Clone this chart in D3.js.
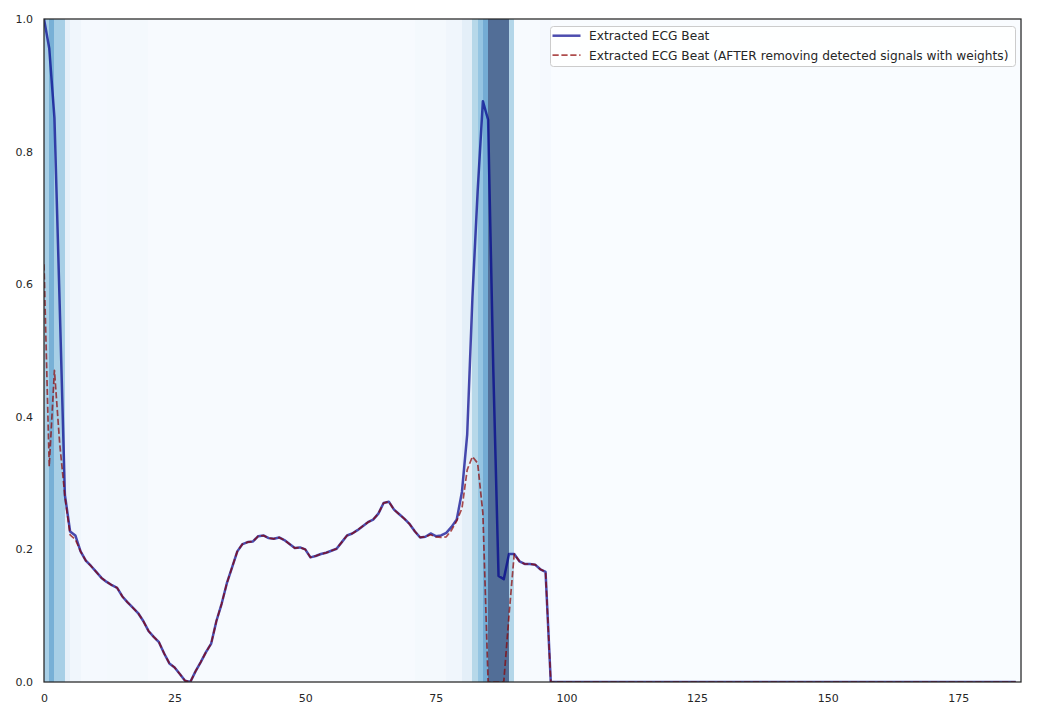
<!DOCTYPE html>
<html>
<head>
<meta charset="utf-8">
<script src="https://cdn.jsdelivr.net/npm/d3@7"></script>
<style>
  html, body { margin: 0; padding: 0; background: #ffffff; }
  svg { display: block; font-family: "DejaVu Sans", sans-serif; }
</style>
</head>
<body>
<svg id="chart" width="1056" height="720"></svg>
<script>
// ---------------- DATA ----------------
const seriesNames = [
  "Extracted ECG Beat",
  "Extracted ECG Beat (AFTER removing detected signals with weights)"
];

const ecgBeat = [
  1.000, 0.956, 0.851, 0.570, 0.282, 0.227, 0.221, 0.197, 0.183, 0.175,
  0.166, 0.157, 0.151, 0.146, 0.142, 0.129, 0.120, 0.112, 0.104, 0.092,
  0.077, 0.068, 0.060, 0.043, 0.028, 0.022, 0.012, 0.002, 0.000, 0.016,
  0.030, 0.045, 0.058, 0.092, 0.118, 0.149, 0.173, 0.197, 0.208, 0.211,
  0.212, 0.220, 0.221, 0.217, 0.216, 0.218, 0.214, 0.208, 0.202, 0.203,
  0.200, 0.188, 0.190, 0.193, 0.195, 0.198, 0.201, 0.211, 0.221, 0.224,
  0.229, 0.235, 0.241, 0.245, 0.254, 0.270, 0.272, 0.260, 0.253, 0.246,
  0.238, 0.227, 0.218, 0.219, 0.224, 0.220, 0.221, 0.225, 0.234, 0.245,
  0.287, 0.373, 0.580, 0.740, 0.876, 0.848, 0.470, 0.160, 0.155, 0.193,
  0.193, 0.182, 0.178, 0.178, 0.177, 0.170, 0.166, 0, 0, 0,
  0, 0, 0, 0, 0, 0, 0, 0, 0, 0,
  0, 0, 0, 0, 0, 0, 0, 0, 0, 0,
  0, 0, 0, 0, 0, 0, 0, 0, 0, 0,
  0, 0, 0, 0, 0, 0, 0, 0, 0, 0,
  0, 0, 0, 0, 0, 0, 0, 0, 0, 0,
  0, 0, 0, 0, 0, 0, 0, 0, 0, 0,
  0, 0, 0, 0, 0, 0, 0, 0, 0, 0,
  0, 0, 0, 0, 0, 0, 0, 0, 0, 0,
  0, 0, 0, 0, 0, 0, 0
];

const ecgBeatAfter = [
  0.630, 0.325, 0.470, 0.360, 0.280, 0.222, 0.215, 0.197, 0.183, 0.175,
  0.166, 0.157, 0.151, 0.146, 0.142, 0.129, 0.120, 0.112, 0.104, 0.092,
  0.077, 0.068, 0.060, 0.043, 0.028, 0.022, 0.012, 0.002, 0.000, 0.016,
  0.030, 0.045, 0.058, 0.092, 0.118, 0.149, 0.173, 0.197, 0.208, 0.211,
  0.212, 0.220, 0.221, 0.217, 0.216, 0.218, 0.214, 0.208, 0.202, 0.203,
  0.200, 0.188, 0.190, 0.193, 0.195, 0.198, 0.201, 0.211, 0.221, 0.224,
  0.229, 0.235, 0.241, 0.245, 0.254, 0.270, 0.272, 0.260, 0.253, 0.246,
  0.238, 0.227, 0.218, 0.219, 0.222, 0.219, 0.218, 0.219, 0.229, 0.243,
  0.262, 0.320, 0.340, 0.330, 0.255, 0.000, 0.000, 0.000, 0.000, 0.100,
  0.193, 0.182, 0.178, 0.178, 0.177, 0.170, 0.166, 0, 0, 0,
  0, 0, 0, 0, 0, 0, 0, 0, 0, 0,
  0, 0, 0, 0, 0, 0, 0, 0, 0, 0,
  0, 0, 0, 0, 0, 0, 0, 0, 0, 0,
  0, 0, 0, 0, 0, 0, 0, 0, 0, 0,
  0, 0, 0, 0, 0, 0, 0, 0, 0, 0,
  0, 0, 0, 0, 0, 0, 0, 0, 0, 0,
  0, 0, 0, 0, 0, 0, 0, 0, 0, 0,
  0, 0, 0, 0, 0, 0, 0, 0, 0, 0,
  0, 0, 0, 0, 0, 0, 0
];

// detection weights per sample (shaded background columns)
const weights = [
  0.44, 0.64, 0.44, 0.44, 0.13, 0.07, 0.07, 0.03, 0.03, 0.03,
  0.03, 0.03, 0.04, 0.04, 0.04, 0.04, 0.04, 0.04, 0.04, 0.04,
  0.02, 0.02, 0.02, 0.02, 0.02, 0.02, 0.02, 0.02, 0.02, 0.02,
  0.02, 0.02, 0.02, 0.02, 0.02, 0.02, 0.02, 0.02, 0.02, 0.02,
  0.02, 0.02, 0.02, 0.02, 0.02, 0.02, 0.02, 0.02, 0.02, 0.02,
  0.02, 0.02, 0.02, 0.02, 0.02, 0.02, 0.02, 0.02, 0.02, 0.02,
  0.02, 0.02, 0.02, 0.02, 0.02, 0.02, 0.02, 0.02, 0.02, 0.02,
  0.02, 0.04, 0.04, 0.04, 0.04, 0.04, 0.04, 0.07, 0.07, 0.07,
  0.15, 0.15, 0.39, 0.51, 0.66, 1.00, 1.00, 1.00, 1.00, 0.40,
  0.02, 0.02, 0.02, 0.02, 0.02, 0.03, 0.03, 0, 0, 0,
  0, 0, 0, 0, 0, 0, 0, 0, 0, 0,
  0, 0, 0, 0, 0, 0, 0, 0, 0, 0,
  0, 0, 0, 0, 0, 0, 0, 0, 0, 0,
  0, 0, 0, 0, 0, 0, 0, 0, 0, 0,
  0, 0, 0, 0, 0, 0, 0, 0, 0, 0,
  0, 0, 0, 0, 0, 0, 0, 0, 0, 0,
  0, 0, 0, 0, 0, 0, 0, 0, 0, 0,
  0, 0, 0, 0, 0, 0, 0, 0, 0, 0,
  0, 0, 0, 0, 0, 0, 0
];

const xTicks = [0, 25, 50, 75, 100, 125, 150, 175];
const yTicks = [0.0, 0.2, 0.4, 0.6, 0.8, 1.0];

// ---------------- LAYOUT / STYLE ----------------
const plot = { left: 44, top: 19, right: 1021, bottom: 682 };
const textColor = "#262626";
const BLUES = ["#f7fbff","#deebf7","#c6dbef","#9ecae1","#6baed6","#4292c6","#2171b5","#08519c","#08306b"];
const blues = d3.scaleLinear().domain(d3.range(9).map(i => i / 8)).range(BLUES).interpolate(d3.interpolateRgb);
const spanColor = w => d3.interpolateRgb("#ffffff", blues(w))(0.7);

const svg = d3.select("#chart");

const x = d3.scaleLinear().domain([0, weights.length]).range([plot.left, plot.right]);
const y = d3.scaleLinear().domain([0, 1]).range([plot.bottom, plot.top]);

// shaded columns
svg.append("g")
  .attr("shape-rendering", "crispEdges")
  .selectAll("rect")
  .data(weights)
  .join("rect")
  .attr("x", (d, i) => x(i))
  .attr("y", plot.top)
  .attr("width", (d, i) => x(i + 1) - x(i) + 0.6)
  .attr("height", plot.bottom - plot.top)
  .attr("fill", d => spanColor(d));

// lines
const line = d3.line().x((d, i) => x(i)).y(d => y(d));

svg.append("clipPath").attr("id", "clip")
  .append("rect").attr("x", plot.left).attr("y", plot.top - 2)
  .attr("width", plot.right - plot.left).attr("height", plot.bottom - plot.top + 2);

const lines = svg.append("g").attr("clip-path", "url(#clip)");
lines.append("path")
  .datum(ecgBeat)
  .attr("d", line)
  .attr("fill", "none")
  .attr("stroke", "#00008b")
  .attr("stroke-opacity", 0.7)
  .attr("stroke-width", 2.5)
  .attr("stroke-linejoin", "round");

lines.append("path")
  .datum(ecgBeatAfter)
  .attr("d", line)
  .attr("fill", "none")
  .attr("stroke", "#8b0000")
  .attr("stroke-opacity", 0.7)
  .attr("stroke-width", 1.7)
  .attr("stroke-dasharray", "6.2,2.7")
  .attr("stroke-linejoin", "round");

// axes
const xAxis = svg.append("g")
  .attr("transform", `translate(0,${plot.bottom})`)
  .call(d3.axisBottom(x).tickValues(xTicks).tickFormat(d3.format("d")).tickSize(0).tickPadding(12));
const yAxis = svg.append("g")
  .attr("transform", `translate(${plot.left},0)`)
  .call(d3.axisLeft(y).tickValues(yTicks).tickFormat(d3.format(".1f")).tickSize(0).tickPadding(11));

[xAxis, yAxis].forEach(a => {
  a.select(".domain").remove();
  a.selectAll("text")
    .attr("fill", textColor)
    .style("font-family", "'DejaVu Sans', sans-serif")
    .style("font-size", "11px");
});

// frame
svg.append("rect")
  .attr("x", plot.left).attr("y", plot.top)
  .attr("width", plot.right - plot.left).attr("height", plot.bottom - plot.top)
  .attr("fill", "none")
  .attr("stroke", textColor)
  .attr("stroke-width", 1.25);

// legend
const lg = svg.append("g").attr("transform", "translate(550.5,26.5)");
lg.append("rect")
  .attr("width", 465).attr("height", 40).attr("rx", 3)
  .attr("fill", "#ffffff").attr("fill-opacity", 0.8)
  .attr("stroke", "#cccccc").attr("stroke-width", 1);

const legendItems = [
  { name: seriesNames[0], color: "#00008b", width: 2.5, dash: null },
  { name: seriesNames[1], color: "#8b0000", width: 1.7, dash: "6.2,2.7" }
];
legendItems.forEach((it, i) => {
  const yy = 9.2 + i * 19.5;
  lg.append("line")
    .attr("x1", 2).attr("x2", 30).attr("y1", yy).attr("y2", yy)
    .attr("stroke", it.color).attr("stroke-opacity", 0.7)
    .attr("stroke-width", it.width)
    .attr("stroke-dasharray", it.dash);
  lg.append("text")
    .attr("x", 38.5).attr("y", yy).attr("dy", "0.36em")
    .attr("fill", textColor)
    .style("font-size", "12.2px")
    .text(it.name);
});
</script>
</body>
</html>
